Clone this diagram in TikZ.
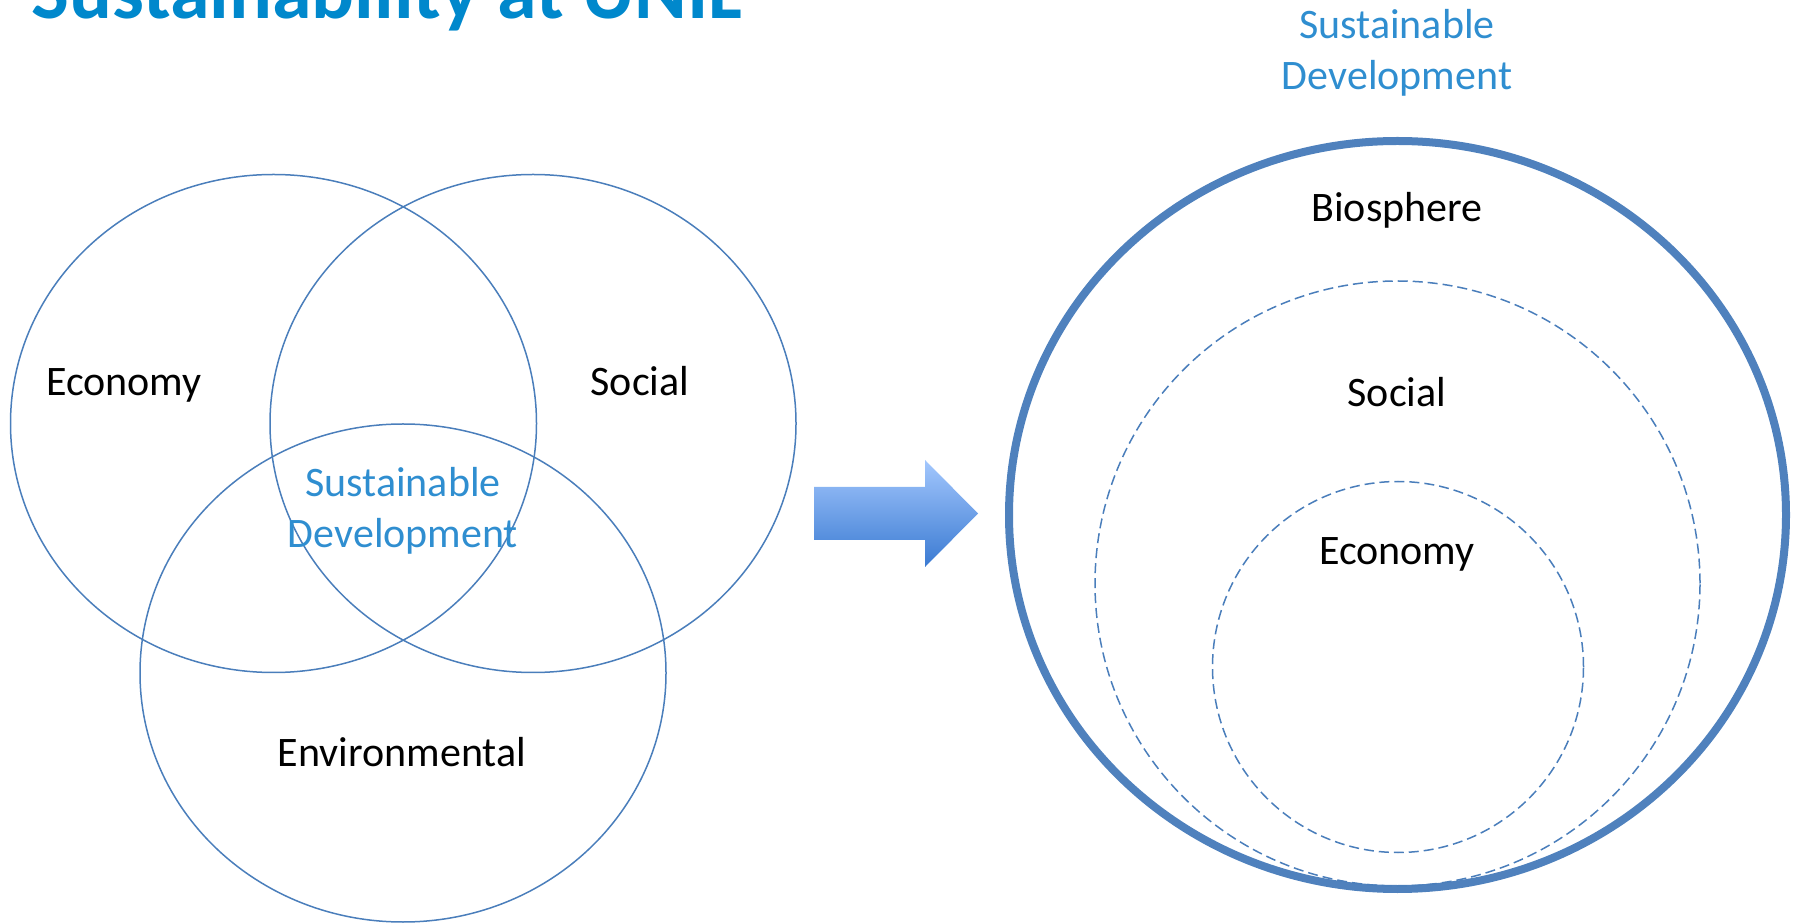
\documentclass[tikz,border=0pt]{standalone}
\usepackage{fontspec}
\setmainfont{Carlito}
\usetikzlibrary{shapes.geometric}
\definecolor{lineblue}{HTML}{4A7EBB}
\definecolor{thickblue}{HTML}{4F81BD}
\definecolor{titleblue}{HTML}{0088CC}
\definecolor{sdblue}{HTML}{2F8ED0}
\definecolor{arrowtop}{HTML}{A3C7FD}
\definecolor{arrowbot}{HTML}{3A7AD2}
\begin{document}
\begin{tikzpicture}[x=0.5pt,y=-0.5pt,
  venn/.style={ellipse, draw=lineblue, line width=0.75pt, minimum width=263pt, minimum height=249pt, inner sep=0pt},
  lbl/.style={font=\fontsize{21pt}{26pt}\selectfont, anchor=base, inner sep=0pt},
  sdlbl/.style={lbl, text=sdblue},
  ring/.style={circle, draw=lineblue, dash pattern=on 5pt off 2.5pt, line width=0.75pt, inner sep=0pt},
  bigring/.style={ellipse, draw=thickblue, line width=4pt, inner sep=0pt}]
\useasboundingbox (0,0) rectangle (1794,924);
% title
\node[anchor=base west, inner sep=0pt, text=titleblue, font=\fontsize{40pt}{46pt}\selectfont\bfseries] (title) at (31,19) {Sustainability at UNIL};
% Venn diagram
\node[venn] (econ) at (273.5,423.5) {};
\node[venn] (soc) at (533,423.5) {};
\node[venn] (env) at (403,673) {};
\node[lbl] (econl) at (124,396) {Economy};
\node[lbl] (socl) at (640,396) {Social};
\node[lbl] (envl) at (402,766.5) {Environmental};
\node[sdlbl] (sda) at (403,496.5) {Sustainable};
\node[sdlbl] (sdb) at (403,548) {Development};
% arrow
\shade[top color=arrowtop, bottom color=arrowbot] (814,487) -- (925,487) -- (925,460) -- (978,513.5) -- (925,567) -- (925,540) -- (814,540) -- cycle;
% nested
\node[bigring, minimum width=388.5pt, minimum height=374pt] (bio) at (1397.5,515) {};
\node[ring, minimum size=302.5pt] (socr) at (1397.5,583.5) {};
\node[ring, minimum size=185.5pt] (econr) at (1398,667) {};
\node[sdlbl] (sdra) at (1397,39) {Sustainable};
\node[sdlbl] (sdrb) at (1397,90) {Development};
\node[lbl] (biol) at (1397,222) {Biosphere};
\node[lbl] (socrl) at (1397,407) {Social};
\node[lbl] (econrl) at (1397,565) {Economy};
\end{tikzpicture}
\end{document}
